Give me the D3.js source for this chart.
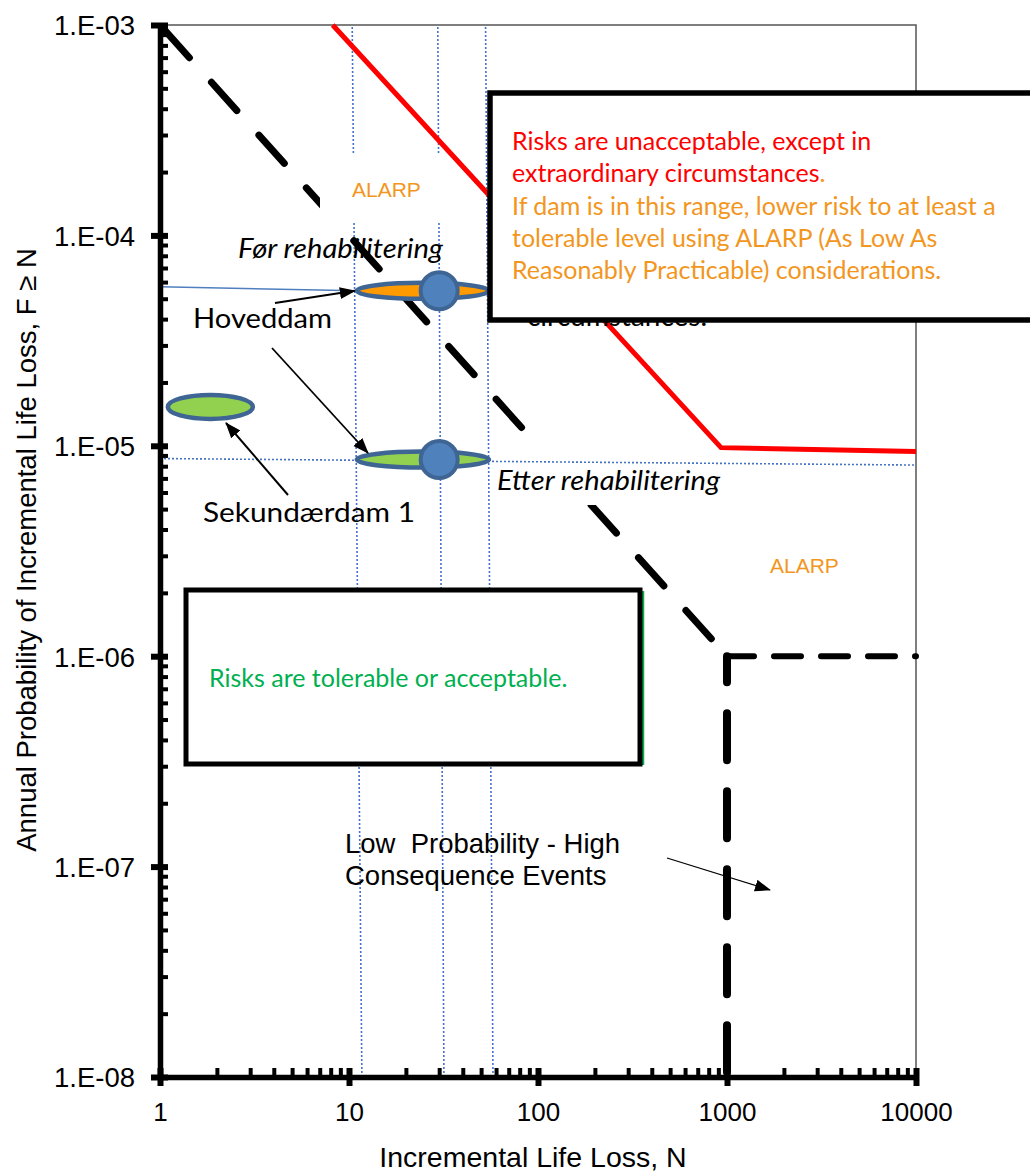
<!DOCTYPE html>
<html>
<head>
<meta charset="utf-8">
<script src="https://cdn.jsdelivr.net/npm/d3@7"></script>
<style>
  body { margin: 0; background: #fff; }
</style>
</head>
<body>
<svg id="chart" width="1030" height="1172"></svg>
<script>
// ticks
let xTicks = [1, 10, 100, 1000, 10000];
let yTicks = [1e-3, 1e-4, 1e-5, 1e-6, 1e-7, 1e-8];
let yTickLabels = ["1.E-03", "1.E-04", "1.E-05", "1.E-06", "1.E-07", "1.E-08"];

// tolerable risk guideline (black dashed)
let tolN = [1, 1000];
let tolF = [1e-3, 1e-6];
let lpHorizN = [1000, 10000];
let lpHorizF = [1e-6, 1e-6];
let lpVertN = [1000, 1000];
let lpVertF = [1e-6, 1e-8];

// unacceptable limit (red)
let redN = [8.2, 930, 10000];
let redF = [1e-3, 9.8e-6, 9.4e-6];

// dam estimates
let damNames = ["Hoveddam før", "Hoveddam etter", "Sekundærdam 1"];
let damNLow = [11, 11, 1.1];
let damNHigh = [55, 55, 3.1];
let damNBest = [30, 30, null];
let damF = [5.45e-5, 8.6e-6, 1.53e-5];
let damFill = ["#ff9a00", "#92d050", "#92d050"];

// helper lines
let guideTopN = [10.4, 29.5, 52.8];
let guideBotN = [11.7, 31.8, 57.8];
let beforeGuideN = [1, 11];
let beforeGuideF = [5.7e-5, 5.45e-5];
let afterGuideN = [1, 10000];
let afterGuideF = [8.7e-6, 8.1e-6];

let arial = "'Liberation Sans', Arial, sans-serif";
let cal = "Lato, 'Open Sans', sans-serif";
let orange = "#f2961e";

let svg = d3.select("#chart");

let x = d3.scaleLog().domain([1, 10000]).range([160, 916]);
let y = d3.scaleLog().domain([1e-8, 1e-3]).range([1077, 25]);

let line = d3.line().x((d) => x(d[0])).y((d) => y(d[1]));
let pts = (ns, fs) => ns.map((n, i) => [n, fs[i]]);

let isMajor = (v) => Math.abs(Math.log10(v) - Math.round(Math.log10(v))) < 1e-9;

// arrow head
svg.append("defs").append("marker")
  .attr("id", "arrow")
  .attr("markerUnits", "userSpaceOnUse")
  .attr("markerWidth", 16).attr("markerHeight", 14)
  .attr("refX", 15).attr("refY", 7)
  .attr("orient", "auto")
  .append("path").attr("d", "M0,1 L16,7 L0,13 Z").attr("fill", "#000");

// frame top/right
svg.append("path")
  .attr("d", `M${x(1)},${y(1e-3)} H${x(10000)} V${y(1e-8)}`)
  .attr("fill", "none").attr("stroke", "#555").attr("stroke-width", 1.5);

// vertical dotted guides
guideTopN.forEach((n, i) => {
  svg.append("line")
    .attr("x1", x(n)).attr("y1", y(1e-3) + 2)
    .attr("x2", x(guideBotN[i])).attr("y2", y(1e-8))
    .attr("stroke", "#4472c4").attr("stroke-width", 1.6)
    .attr("stroke-dasharray", "2 2");
});

// red line
svg.append("path")
  .datum(pts(redN, redF))
  .attr("d", line)
  .attr("fill", "none").attr("stroke", "#ff0000").attr("stroke-width", 5);

// black dashed lines
svg.append("path")
  .datum(pts(tolN, tolF))
  .attr("d", line)
  .attr("fill", "none").attr("stroke", "#000").attr("stroke-width", 7)
  .attr("stroke-linecap", "round")
  .attr("stroke-dasharray", "38 33").attr("stroke-dashoffset", -6);
svg.append("path")
  .datum(pts(lpHorizN, lpHorizF))
  .attr("d", line)
  .attr("fill", "none").attr("stroke", "#000").attr("stroke-width", 6)
  .attr("stroke-linecap", "round")
  .attr("stroke-dasharray", "27 20");
svg.append("path")
  .datum(pts(lpVertN, lpVertF))
  .attr("d", line)
  .attr("fill", "none").attr("stroke", "#000").attr("stroke-width", 8)
  .attr("stroke-linecap", "round")
  .attr("stroke-dasharray", "47 31").attr("stroke-dashoffset", 21);

// white label backgrounds
svg.append("rect").attr("x", 320).attr("y", 155).attr("width", 125).attr("height", 67).attr("fill", "#fff");
svg.append("rect").attr("x", 495).attr("y", 447).attr("width", 222).attr("height", 58).attr("fill", "#fff");

// horizontal guides
svg.append("path")
  .datum(pts(afterGuideN, afterGuideF))
  .attr("d", line)
  .attr("fill", "none").attr("stroke", "#4472c4").attr("stroke-width", 1.6)
  .attr("stroke-dasharray", "2 2");
svg.append("path")
  .datum(pts(beforeGuideN, beforeGuideF))
  .attr("d", line)
  .attr("fill", "none").attr("stroke", "#4f7fbf").attr("stroke-width", 1.5);

// hidden text behind the big box
svg.append("text")
  .attr("x", 527).attr("y", 326)
  .attr("font-family", cal).attr("font-size", 28).attr("fill", "#000")
  .text("circumstances.");

// dam ellipses and best estimates
let ry = [8, 8, 12];
damNames.forEach((name, i) => {
  let x0 = x(damNLow[i]), x1 = x(damNHigh[i]);
  svg.append("ellipse")
    .attr("cx", (x0 + x1) / 2).attr("cy", y(damF[i]))
    .attr("rx", (x1 - x0) / 2).attr("ry", ry[i])
    .attr("fill", damFill[i]).attr("stroke", "#3e6594").attr("stroke-width", 4.5);
  if (damNBest[i] != null) {
    svg.append("circle")
      .attr("cx", x(damNBest[i])).attr("cy", y(damF[i]))
      .attr("r", 18.5)
      .attr("fill", "#4f81bd").attr("stroke", "#3e6594").attr("stroke-width", 4);
  }
});

// arrows
let arrow = (x1, y1, x2, y2, w) => {
  svg.append("line")
    .attr("x1", x1).attr("y1", y1).attr("x2", x2).attr("y2", y2)
    .attr("stroke", "#000").attr("stroke-width", w)
    .attr("marker-end", "url(#arrow)");
};
arrow(275, 303, x(damNLow[0]) - 2, y(damF[0]), 2);
arrow(272, 348, 368, 453, 1.8);
arrow(288, 495, 226, 423, 2);
arrow(667, 858, 770, 890, 1.3);

// boxes
svg.append("rect")
  .attr("x", 490).attr("y", 93).attr("width", 560).attr("height", 227)
  .attr("fill", "#fff").attr("stroke", "#000").attr("stroke-width", 5.5);
svg.append("line")
  .attr("x1", 643).attr("y1", 591).attr("x2", 643).attr("y2", 765)
  .attr("stroke", "#00b050").attr("stroke-width", 2.5);
svg.append("rect")
  .attr("x", 186).attr("y", 590).attr("width", 454).attr("height", 174)
  .attr("fill", "#fff").attr("stroke", "#000").attr("stroke-width", 5);

// box texts
let boxLines = [
  [["Risks are unacceptable, except in", "#ff0000"]],
  [["extraordinary circumstances", "#ff0000"], [".", orange]],
  [["If dam is in this range, lower risk to at least a", orange]],
  [["tolerable level using ALARP (As Low As", orange]],
  [["Reasonably Practicable) considerations.", orange]]
];
boxLines.forEach((parts, i) => {
  let t = svg.append("text")
    .attr("x", 512).attr("y", 150 + i * 32.3)
    .attr("font-family", cal).attr("font-size", 25);
  parts.forEach((p) => t.append("tspan").attr("fill", p[1]).text(p[0]));
});
svg.append("text")
  .attr("x", 209).attr("y", 687)
  .attr("font-family", cal).attr("font-size", 25).attr("fill", "#00b050")
  .text("Risks are tolerable or acceptable.");

// labels
let label = (tx, ty, str, opts) => {
  let t = svg.append("text")
    .attr("x", tx).attr("y", ty)
    .attr("font-family", opts.font).attr("font-size", opts.size)
    .attr("font-style", opts.italic ? "italic" : "normal")
    .attr("fill", opts.color || "#000")
    .style("white-space", "pre")
    .text(str);
  if (opts.len) t.attr("textLength", opts.len).attr("lengthAdjust", "spacingAndGlyphs");
  return t;
};
label(352, 197, "ALARP", { font: arial, size: 21, color: orange });
label(770, 573, "ALARP", { font: arial, size: 21, color: orange });
label(238, 258, "Før rehabilitering", { font: cal, size: 27, italic: true, len: 205 });
label(497, 490, "Etter rehabilitering", { font: cal, size: 27, italic: true, len: 223 });
label(193, 328, "Hoveddam", { font: cal, size: 27, len: 139 });
label(203, 522, "Sekundærdam 1", { font: cal, size: 27, len: 212 });
label(345, 853, "Low  Probability - High", { font: arial, size: 27.5 });
label(345, 885, "Consequence Events", { font: arial, size: 27.5 });

// x axis: minor ticks then majors
let xAxisY = y(1e-8);
svg.append("g")
  .attr("transform", `translate(0,${xAxisY})`)
  .call(d3.axisBottom(x).tickValues(x.ticks().filter((v) => !isMajor(v)))
    .tickSizeInner(-9).tickSizeOuter(0).tickFormat(""))
  .call((g) => g.select(".domain").remove())
  .call((g) => g.selectAll(".tick line").attr("stroke", "#000").attr("stroke-width", 4));

let xAxis = svg.append("g")
  .attr("transform", `translate(0,${xAxisY})`)
  .call(d3.axisBottom(x).tickValues(xTicks).tickSizeInner(9).tickSizeOuter(0)
    .tickFormat(d3.format("d")));
xAxis.select(".domain").attr("stroke", "#000").attr("stroke-width", 5.5);
xAxis.selectAll(".tick line").attr("y1", -9).attr("stroke", "#000").attr("stroke-width", 6);
xAxis.selectAll(".tick text")
  .attr("y", 44).attr("dy", 0)
  .attr("font-family", arial).attr("font-size", 26).attr("fill", "#000");

// y axis
let yAxisX = x(1);
svg.append("g")
  .attr("transform", `translate(${yAxisX},0)`)
  .call(d3.axisLeft(y).tickValues(y.ticks().filter((v) => !isMajor(v)))
    .tickSizeInner(-8).tickSizeOuter(0).tickFormat(""))
  .call((g) => g.select(".domain").remove())
  .call((g) => g.selectAll(".tick line").attr("stroke", "#000").attr("stroke-width", 4));

let yAxis = svg.append("g")
  .attr("transform", `translate(${yAxisX},0)`)
  .call(d3.axisLeft(y).tickValues(yTicks).tickSizeInner(9).tickSizeOuter(0)
    .tickFormat((d, i) => yTickLabels[i]));
yAxis.select(".domain").attr("stroke", "#000").attr("stroke-width", 5.5);
yAxis.selectAll(".tick line").attr("x1", 8).attr("stroke", "#000").attr("stroke-width", 6);
yAxis.selectAll(".tick text")
  .attr("x", -25).attr("dy", "0.36em")
  .attr("font-family", arial).attr("font-size", 27.5).attr("fill", "#000");

// axis titles
svg.append("text")
  .attr("x", 533).attr("y", 1167)
  .attr("text-anchor", "middle")
  .attr("font-family", arial).attr("font-size", 28.5).attr("fill", "#000")
  .text("Incremental Life Loss, N");
svg.append("text")
  .attr("transform", "translate(36,550) rotate(-90)")
  .attr("text-anchor", "middle")
  .attr("font-family", arial).attr("font-size", 27.5).attr("fill", "#000")
  .text("Annual Probability of Incremental Life Loss, F ≥ N");
</script>
</body>
</html>
